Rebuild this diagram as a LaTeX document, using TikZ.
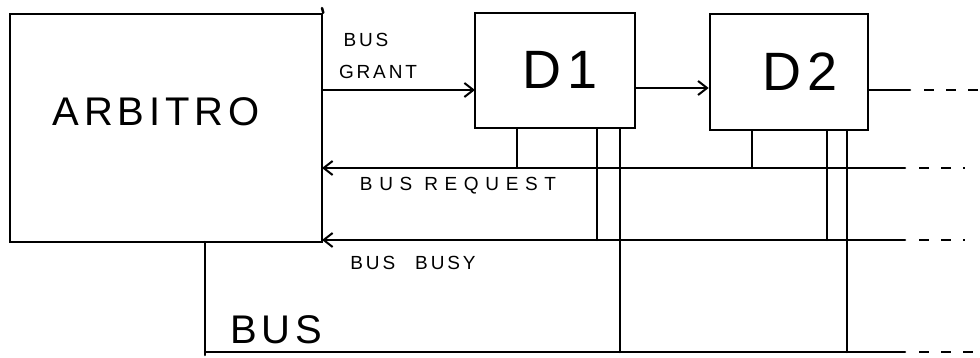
\documentclass[tikz,border=0pt]{standalone}
\usepackage{fontspec}
\setmainfont{Liberation Sans}
\newfontfamily\handfont[LetterSpace=12]{Liberation Sans}
\newfontfamily\widefont[LetterSpace=35]{Liberation Sans}
\newfontfamily\grantfont[LetterSpace=15]{Liberation Sans}
\usetikzlibrary{arrows.meta}
\begin{document}
\begin{tikzpicture}[x=1pt,y=-1pt,
  wire/.style={line width=2.5pt,line cap=round},
  arr/.style={wire,-{Straight Barb[length=9pt,width=14pt,line width=2pt]}},
  dashline/.style={line width=2.5pt,dash pattern=on 10pt off 12pt},
  box/.style={draw,line width=2.6pt,rectangle,inner sep=0pt},
  big/.style={font=\fontsize{40}{44}\selectfont\handfont},
  small/.style={font=\fontsize{19}{22}\selectfont\widefont,inner sep=0pt},
  gsmall/.style={font=\fontsize{19}{22}\selectfont\grantfont,inner sep=0pt}]
\useasboundingbox (0,0) rectangle (980,358);
% boxes
\node[box,minimum width=312pt,minimum height=228pt] (arb) at (166,128) {};
\node[big] (arbtxt) at (156,112) {ARBITRO};
\node[box,minimum width=160pt,minimum height=115pt] (d1) at (555,70.5) {};
\node[font=\fontsize{54}{60}\selectfont\handfont] (d1txt) at (560,70) {D1};
\node[box,minimum width=158pt,minimum height=116pt] (d2) at (789,72) {};
\node[font=\fontsize{54}{60}\selectfont\handfont] (d2txt) at (800,72) {D2};
% right edge of arbiter extended upward
\coordinate (arbtop) at (322,8);
\draw[wire] (arbtop) -- (arb.north east);
% bus grant chain
\coordinate (g0) at (322,90);
\coordinate (g1) at (475,90);
\draw[arr] (g0) -- (g1);
\draw[arr] (d1.east |- 0,88) -- (d2.west |- 0,88);
\coordinate (o1) at (910,90);
\coordinate (o2) at (978,90);
\draw[wire] (d2.east |- 0,90) -- (o1);
\draw[dashline] (o1) ++(14,0) -- (o2);
\node[gsmall] (lbus) at (366,40) {BUS};
\node[gsmall] (lgrant) at (378,72) {GRANT};
% bus request
\coordinate (r0) at (322,168);
\coordinate (r1) at (905,168);
\coordinate (r2) at (965,168);
\draw[arr] (r1) -- (r0);
\draw[dashline] (r1) ++(14,0) -- (r2);
\node[small] (lreq) at (458,186) {BUS REQUEST};
% bus busy
\coordinate (b0) at (322,240);
\coordinate (b1) at (905,240);
\coordinate (b2) at (965,240);
\draw[arr] (b1) -- (b0);
\draw[dashline] (b1) ++(14,0) -- (b2);
\node[gsmall] (lbusy) at (413,263) {BUS\hspace{20pt}BUSY};
% bus
\coordinate (s0) at (205,242);
\coordinate (s1) at (205,355);
\coordinate (s2) at (205,352);
\coordinate (s3) at (905,352);
\coordinate (s4) at (978,352);
\draw[wire] (s0) -- (s1);
\draw[wire] (s2) -- (s3);
\draw[dashline] (s3) ++(14,0) -- (s4);
\node[big] (lbusbig) at (276,330) {BUS};
% device stubs
\draw[wire] (d1.south -| 517,0) -- (517,168);
\draw[wire] (d1.south -| 597,0) -- (597,240);
\draw[wire] (d1.south -| 620,0) -- (620,352);
\draw[wire] (d2.south -| 752,0) -- (752,168);
\draw[wire] (d2.south -| 827,0) -- (827,240);
\draw[wire] (d2.south -| 847,0) -- (847,352);
\end{tikzpicture}
\end{document}
